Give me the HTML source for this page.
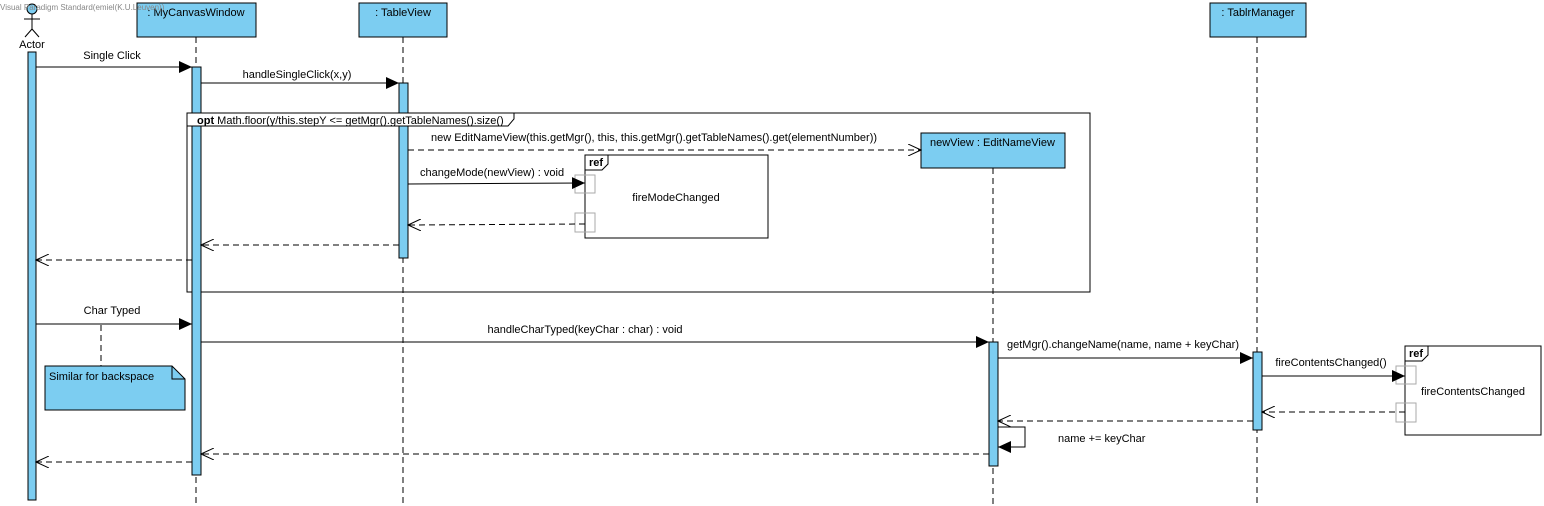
<!DOCTYPE html>
<html><head><meta charset="utf-8"><style>
html,body{margin:0;padding:0;background:#fff;width:1544px;height:506px;overflow:hidden}
svg text{font-family:"Liberation Sans",Arial,sans-serif;font-size:11px;fill:#000}
</style></head><body>
<svg width="1544" height="506" viewBox="0 0 1544 506" xmlns="http://www.w3.org/2000/svg">
<defs>
<marker id="f" markerWidth="14" markerHeight="12" refX="13" refY="6" orient="auto" markerUnits="userSpaceOnUse"><path d="M0,0 L13,6 L0,12 Z" fill="#000"/></marker>
<marker id="o" markerWidth="14" markerHeight="12" refX="13" refY="6" orient="auto" markerUnits="userSpaceOnUse"><path d="M0,0 L13,6 L0,12" fill="none" stroke="#000"/></marker>
</defs>
<g stroke="#000" stroke-dasharray="6,4" stroke-width="1">
<line x1="196" y1="37" x2="196" y2="506"/>
<line x1="403" y1="37" x2="403" y2="506"/>
<line x1="993" y1="168" x2="993" y2="506"/>
<line x1="1257" y1="37" x2="1257" y2="506"/>
<line x1="101" y1="325" x2="101" y2="366"/>
</g>
<!-- opt frame -->
<rect x="187" y="113" width="903" height="179" fill="none" stroke="#000"/>
<!-- heads -->
<g fill="#7ccdf1" stroke="#000">
<rect x="137" y="3" width="119" height="34"/>
<rect x="359" y="3" width="88" height="34"/>
<rect x="1210" y="3" width="96" height="34"/>
<rect x="921" y="133" width="144" height="35"/>
</g>
<text x="196" y="16" text-anchor="middle">: MyCanvasWindow</text>
<text x="403" y="16" text-anchor="middle">: TableView</text>
<text x="1258" y="16" text-anchor="middle">: TablrManager</text>
<text x="930" y="146">newView : EditNameView</text>
<!-- actor -->
<g stroke="#000" fill="none"><circle cx="32" cy="9" r="5" fill="#7ccdf1"/><line x1="32" y1="14" x2="32" y2="29"/><line x1="24" y1="19" x2="40" y2="19"/><line x1="32" y1="29" x2="25" y2="37"/><line x1="32" y1="29" x2="39" y2="37"/></g>
<text x="32" y="48" text-anchor="middle">Actor</text>
<!-- ref frames -->
<rect x="585" y="155" width="183" height="83" fill="#fff" stroke="#000"/>
<path d="M585,155 H608 V164 L602,170 H585" fill="none" stroke="#000"/>
<text x="589" y="166" style="font-weight:bold">ref</text>
<text x="676" y="201" text-anchor="middle">fireModeChanged</text>
<rect x="1405" y="346" width="136" height="89" fill="#fff" stroke="#000"/>
<path d="M1405,346 H1428 V355 L1422,361 H1405" fill="none" stroke="#000"/>
<text x="1409" y="357" style="font-weight:bold">ref</text>
<text x="1473" y="395" text-anchor="middle">fireContentsChanged</text>
<g fill="none" stroke="#aaa"><rect x="575" y="175" width="20" height="18"/><rect x="575" y="213" width="20" height="19"/><rect x="1396" y="366" width="20" height="18"/><rect x="1396" y="403" width="20" height="19"/></g>
<!-- activations -->
<g fill="#7ccdf1" stroke="#000">
<rect x="28" y="52" width="8" height="448"/>
<rect x="192" y="67" width="9" height="408"/>
<rect x="399" y="83" width="9" height="175"/>
<rect x="989" y="342" width="9" height="124"/>
<rect x="1253" y="352" width="9" height="78"/>
</g>
<!-- opt header on top -->
<path d="M187,113 H514 V119 L508,126 H187 Z" fill="#fff" stroke="#000"/>
<text x="197" y="124"><tspan style="font-weight:bold">opt</tspan> Math.floor(y/this.stepY &lt;= getMgr().getTableNames().size()</text>
<text x="0" y="10" style="font-size:8px;fill:#888">Visual Paradigm Standard(emiel(K.U.Leuven))</text>
<!-- note -->
<path d="M45,366 H172 L185,379 V410 H45 Z" fill="#7ccdf1" stroke="#000"/>
<path d="M172,366 V379 H185" fill="none" stroke="#000"/>
<text x="49" y="380">Similar for backspace</text>
<!-- messages -->
<g stroke="#000" fill="none">
<line x1="36" y1="67" x2="192" y2="67" marker-end="url(#f)"/>
<line x1="201" y1="83" x2="399" y2="83" marker-end="url(#f)"/>
<line x1="408" y1="150" x2="921" y2="150" stroke-dasharray="6,4" marker-end="url(#o)"/>
<line x1="408" y1="184" x2="585" y2="183" marker-end="url(#f)"/>
<line x1="585" y1="224" x2="408" y2="225" stroke-dasharray="6,4" marker-end="url(#o)"/>
<line x1="399" y1="245" x2="201" y2="245" stroke-dasharray="6,4" marker-end="url(#o)"/>
<line x1="192" y1="260" x2="36" y2="260" stroke-dasharray="6,4" marker-end="url(#o)"/>
<line x1="36" y1="324" x2="192" y2="324" marker-end="url(#f)"/>
<line x1="201" y1="342" x2="989" y2="342" marker-end="url(#f)"/>
<line x1="998" y1="358" x2="1253" y2="358" marker-end="url(#f)"/>
<line x1="1262" y1="376" x2="1405" y2="376" marker-end="url(#f)"/>
<line x1="1405" y1="412" x2="1262" y2="412" stroke-dasharray="6,4" marker-end="url(#o)"/>
<line x1="1253" y1="421" x2="998" y2="421" stroke-dasharray="6,4" marker-end="url(#o)"/>
<path d="M998,427 H1025 V447 H998" marker-end="url(#f)"/>
<line x1="989" y1="454" x2="201" y2="454" stroke-dasharray="6,4" marker-end="url(#o)"/>
<line x1="192" y1="462" x2="36" y2="462" stroke-dasharray="6,4" marker-end="url(#o)"/>
</g>
<text x="112" y="59" text-anchor="middle">Single Click</text>
<text x="297" y="78" text-anchor="middle">handleSingleClick(x,y)</text>
<text x="654" y="141" text-anchor="middle">new EditNameView(this.getMgr(), this, this.getMgr().getTableNames().get(elementNumber))</text>
<text x="420" y="176">changeMode(newView) : void</text>
<text x="112" y="314" text-anchor="middle">Char Typed</text>
<text x="585" y="333" text-anchor="middle">handleCharTyped(keyChar : char) : void</text>
<text x="1123" y="348" text-anchor="middle">getMgr().changeName(name, name + keyChar)</text>
<text x="1331" y="366" text-anchor="middle">fireContentsChanged()</text>
<text x="1058" y="442">name += keyChar</text>
</svg>
</body></html>
